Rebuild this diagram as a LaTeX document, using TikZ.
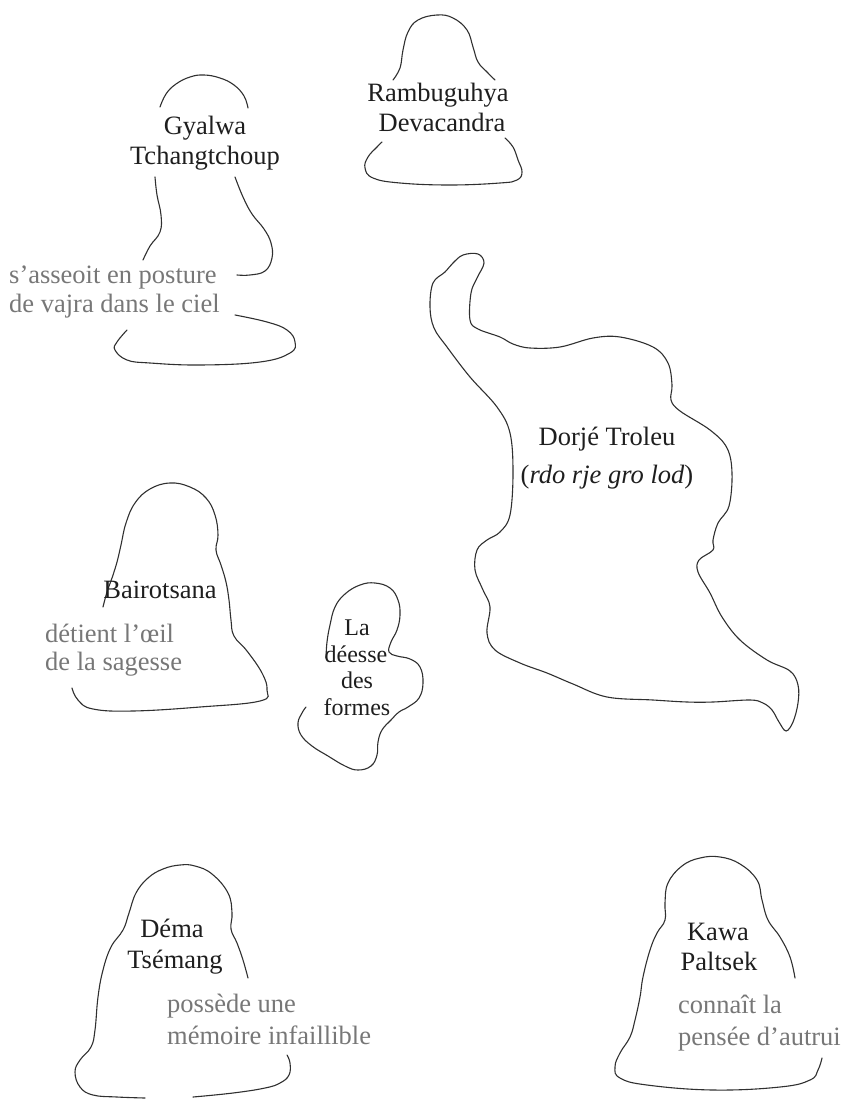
\documentclass[tikz,border=0pt]{standalone}
\usepackage{fontspec}
\setmainfont{Liberation Serif}
\definecolor{ink}{HTML}{1E1E1E}
\definecolor{soft}{HTML}{777777}
\definecolor{outl}{HTML}{303030}
\begin{document}
\begin{tikzpicture}[x=1pt,y=-1pt,
  outline/.style={draw=outl,line width=1.1pt,line cap=round,line join=round},
  who/.style={text=ink,font=\fontsize{26.5}{30}\selectfont,inner sep=0pt,anchor=base},
  whosmall/.style={text=ink,font=\fontsize{24}{27}\selectfont,inner sep=0pt,anchor=base},
  note/.style={text=soft,font=\fontsize{26.5}{30}\selectfont,inner sep=0pt,anchor=base west},
]
\useasboundingbox (0,0) rectangle (845,1099);

% ---------- Gyalwa Tchangtchoup ----------
\draw[outline] plot[smooth,tension=0.7] coordinates {(160,107) (166,94) (176,84) (190,77) (204,75) (220,78) (234,85) (244,96) (248,108)};
\draw[outline] plot[smooth,tension=0.7] coordinates {(155,177) (157,195) (161,215) (160,232) (150,246) (143,260)};
\draw[outline] plot[smooth,tension=0.7] coordinates {(235,177) (243,197) (252,214) (264,229) (271,243) (272,258) (265,271) (250,275) (237,275)};
\draw[outline] plot[smooth,tension=0.7] coordinates {(235,315) (267,322) (287,330) (295,342) (290,353) (260,362) (200,365) (150,363) (127,360) (115,350) (117,342) (127,330)};
\node[who] (gyA) at (205,135) {Gyalwa};
\node[who] (gyB) at (205,165) {Tchangtchoup};
\node[note] (gyC) at (9,283) {s’asseoit en posture};
\node[note] (gyD) at (9,312) {de vajra dans le ciel};

% ---------- Rambuguhya Devacandra ----------
\draw[outline] plot[smooth,tension=0.7] coordinates {(393,80) (400,68) (403,50) (408,32) (418,20) (437,15) (453,18) (467,30) (473,47) (478,62) (487,72) (495,80)};
\draw[outline] plot[smooth,tension=0.7] coordinates {(505,138) (513,147) (518,160) (522,172) (517,180) (500,183) (450,185) (400,183) (373,178) (365,168) (368,157) (377,147) (382,142)};
\node[who] (raA) at (438,102) {Rambuguhya};
\node[who] (raB) at (442,132) {Devacandra};

% ---------- Dorje Troleu ----------
\draw[outline] plot[smooth cycle,tension=0.6] coordinates {(463,255) (478,254) (484,263) (477,278) (471,293) (470,320) (478,329) (500,337) (513,344) (530,348) (560,347) (593,338) (620,337) (653,347) (668,363) (672,385) (671,400) (680,411) (710,430) (727,448) (732,473) (729,506) (718,523) (713,540) (713,550) (699,560) (698,572) (710,593) (722,617) (740,640) (767,660) (790,671) (798,685) (798,703) (793,722) (786,731) (779,722) (772,710) (763,703) (750,700) (713,702) (687,702) (653,700) (607,697) (573,684) (547,673) (520,663) (495,650) (487,633) (490,607) (483,590) (475,570) (477,550) (487,540) (500,532) (510,515) (513,473) (510,433) (497,407) (470,377) (447,347) (434,328) (430,307) (433,283) (445,272) (453,263)};
\node[who] (doA) at (607,445) {Dorjé Troleu};
\node[who] (doB) at (607,483) {(\textit{rdo rje gro lod})};

% ---------- Bairotsana ----------
\draw[outline] plot[smooth,tension=0.7] coordinates {(103,607) (107,592) (112,578) (117,562) (121,545) (126,523) (135,503) (150,489) (170,483) (190,487) (206,498) (215,515) (218,535) (216,550) (221,565) (226,582) (229,600) (231,620) (234,636) (247,651) (262,673) (267,690) (260,701) (200,707) (133,711) (93,709) (78,700) (72,688)};
\node[who] (baA) at (160,598) {Bairotsana};
\node[note] (baB) at (45,642) {détient l’œil};
\node[note] (baC) at (45,670) {de la sagesse};

% ---------- La deesse des formes ----------
\draw[outline] plot[smooth,tension=0.7] coordinates {(326,658) (327,642) (330,625) (335,607) (345,594) (360,585) (375,583) (390,588) (398,600) (400,615) (397,630) (391,642) (389,652) (397,656) (410,659) (420,667) (423,683) (419,698) (408,707) (399,712) (391,720) (382,730) (378,742) (377,755) (371,766) (358,770) (345,766) (328,756) (312,746) (301,735) (298,723) (302,713) (306,707)};
\node[whosmall] (deA) at (357,635) {La};
\node[whosmall] (deB) at (356,662) {déesse};
\node[whosmall] (deC) at (357,688) {des};
\node[whosmall] (deD) at (357,715) {formes};

% ---------- Dema Tsemang ----------
\draw[outline] plot[smooth,tension=0.7] coordinates {(248,978) (243,960) (237,943) (231,929) (232,913) (228,893) (212,874) (195,866) (180,865) (163,869) (148,878) (136,893) (129,913) (123,930) (111,947) (103,970) (98,997) (95,1030) (91,1047) (80,1060) (75,1072) (80,1087) (93,1095) (117,1097) (145,1098)};
\draw[outline] plot[smooth,tension=0.7] coordinates {(193,1097) (233,1093) (265,1088) (280,1083) (289,1075) (290,1063) (287,1055)};
\node[who] (dmA) at (172,937) {Déma};
\node[who] (dmB) at (175,968) {Tsémang};
\node[note] (dmC) at (167,1012) {possède une};
\node[note] (dmD) at (167,1044) {mémoire infaillible};

% ---------- Kawa Paltsek ----------
\draw[outline] plot[smooth,tension=0.7] coordinates {(795,978) (790,957) (780,937) (768,920) (762,900) (757,880) (740,864) (720,857) (700,858) (682,866) (668,883) (665,903) (665,920) (657,933) (650,950) (643,977) (640,997) (635,1020) (630,1037) (620,1053) (615,1067) (620,1078) (647,1085) (713,1090) (780,1087) (810,1080) (818,1070) (822,1058)};
\node[who] (kaA) at (718,940) {Kawa};
\node[who] (kaB) at (719,970) {Paltsek};
\node[note] (kaC) at (678,1013) {connaît la};
\node[note] (kaD) at (678,1045) {pensée d’autrui};
\end{tikzpicture}
\end{document}
